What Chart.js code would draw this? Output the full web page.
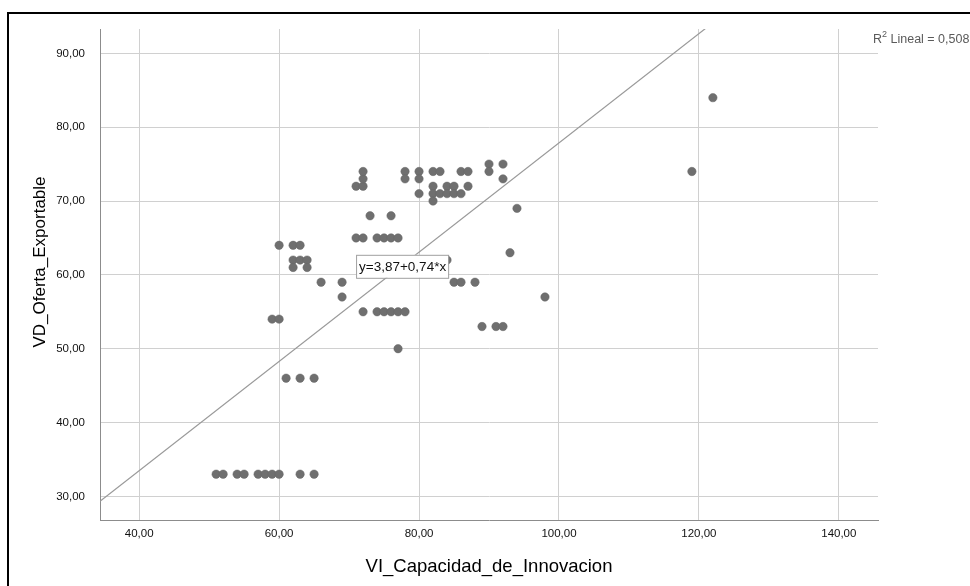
<!DOCTYPE html>
<html>
<head>
<meta charset="utf-8">
<script src="https://cdn.jsdelivr.net/npm/chart.js@4.4.0/dist/chart.umd.min.js"></script>
<style>
html, body { margin: 0; padding: 0; background: #fff; }
#wrap { position: relative; width: 970px; height: 586px; overflow: hidden; }
#frame { position: absolute; left: 7px; top: 12px; width: 2000px; height: 2000px;
         border-left: 2px solid #000; border-top: 2px solid #000; }
canvas { position: absolute; left: 0; top: 0; }
</style>
</head>
<body>
<div id="wrap"><div id="frame"></div><canvas id="chart" width="970" height="586"></canvas></div>
<script>
// VI_Capacidad_de_Innovacion (x) / VD_Oferta_Exportable (y)
var innovacion = [51, 52, 54, 55, 57, 58, 59, 60, 63, 65,
                  61, 63, 65,
                  59, 60,
                  60, 62, 63,
                  62, 63, 64,
                  62, 64,
                  66, 69, 69,
                  71, 72, 74, 75, 76, 77,
                  73, 76,
                  72, 74, 75, 76, 77, 78,
                  77,
                  71, 72, 72, 72,
                  78, 78, 80, 80, 80,
                  82, 83, 86, 87,
                  82, 84, 85, 87,
                  82, 83, 84, 85, 86,
                  82,
                  90, 92, 90, 92,
                  94, 93, 84,
                  85, 86, 88,
                  89, 91, 92,
                  98,
                  119, 122];
var oferta = [33, 33, 33, 33, 33, 33, 33, 33, 33, 33,
              46, 46, 46,
              54, 54,
              64, 64, 64,
              62, 62, 62,
              61, 61,
              59, 59, 57,
              65, 65, 65, 65, 65, 65,
              68, 68,
              55, 55, 55, 55, 55, 55,
              50,
              72, 72, 73, 74,
              74, 73, 74, 73, 71,
              74, 74, 74, 74,
              72, 72, 72, 72,
              71, 71, 71, 71, 71,
              70,
              75, 75, 74, 73,
              69, 63, 62,
              59, 59, 59,
              53, 53, 53,
              57,
              74, 84];

var xTicks = [40, 60, 80, 100, 120, 140];
var yTicks = [30, 40, 50, 60, 70, 80, 90];

// recta de ajuste lineal
var intercepto = 3.87;
var pendiente = 0.74;
var r2 = "0,508";

var xMin = 34.4, xMax = 145.6;
var yMin = 26.7, yMax = 93.3;

var puntos = innovacion.map(function (v, i) { return { x: v, y: oferta[i] }; });
var recta = [
    { x: xMin, y: intercepto + pendiente * xMin },
    { x: xMax, y: intercepto + pendiente * xMax }
];

function coma(v) { return Number(v).toFixed(2).replace('.', ','); }

Chart.defaults.font.family = "'Liberation Sans', Arial, sans-serif";
Chart.defaults.color = '#111';

var etiquetas = {
    id: 'etiquetas',
    afterDatasetsDraw: function (chart) {
        var ctx = chart.ctx;
        var xs = chart.scales.x, ys = chart.scales.y;
        // caja con la ecuacion
        var bx = xs.getPixelForValue(71), by = ys.getPixelForValue(59.6);
        var txt = 'y=' + coma(intercepto) + '+' + coma(pendiente) + '*x';
        ctx.save();
        ctx.font = "13.5px 'Liberation Sans', Arial, sans-serif";
        var w = ctx.measureText(txt).width + 5;
        var h = 23;
        ctx.fillStyle = '#fff';
        ctx.fillRect(bx, by - h, w, h);
        ctx.strokeStyle = '#a0a0a0';
        ctx.lineWidth = 1;
        ctx.strokeRect(bx + 0.5, by - h + 0.5, w, h);
        ctx.fillStyle = '#111';
        ctx.textBaseline = 'middle';
        ctx.fillText(txt, bx + 3, by - h / 2 + 1);

        // R2 arriba a la derecha
        var rx = chart.chartArea.right - 5, ry = 40;
        ctx.fillStyle = '#5a5a5a';
        ctx.font = "12.5px 'Liberation Sans', Arial, sans-serif";
        ctx.fillText('R', rx, ry);
        var x2 = rx + ctx.measureText('R').width;
        ctx.font = "9px 'Liberation Sans', Arial, sans-serif";
        ctx.fillText('2', x2, ry - 5);
        x2 += ctx.measureText('2').width;
        ctx.font = "12.5px 'Liberation Sans', Arial, sans-serif";
        ctx.fillText(' Lineal = ' + r2, x2, ry);

        // titulo del eje Y
        ctx.translate(40, 262);
        ctx.rotate(-Math.PI / 2);
        ctx.fillStyle = '#000';
        ctx.textAlign = 'center';
        ctx.font = "17px 'Liberation Sans', Arial, sans-serif";
        ctx.fillText('VD_Oferta_Exportable', 0, 0);
        ctx.restore();
    }
};

new Chart(document.getElementById('chart'), {
    type: 'scatter',
    data: {
        datasets: [
            {
                data: puntos,
                backgroundColor: '#6f6f6f',
                borderColor: '#666',
                borderWidth: 0.5,
                pointRadius: 4.2,
                order: 2
            },
            {
                type: 'line',
                data: recta,
                borderColor: '#9a9a9a',
                borderWidth: 1.2,
                pointRadius: 0,
                fill: false,
                clip: 0,
                order: 1
            }
        ]
    },
    options: {
        responsive: false,
        animation: false,
        events: [],
        layout: { padding: { top: 29, right: 92, left: 0, bottom: 0 } },
        plugins: {
            legend: { display: false },
            tooltip: { enabled: false }
        },
        scales: {
            x: {
                type: 'linear',
                min: xMin,
                max: xMax,
                afterBuildTicks: function (s) { s.ticks = xTicks.map(function (v) { return { value: v }; }); },
                afterFit: function (s) { s.height = 65.3; },
                grid: { color: '#d0d0d0', lineWidth: 1, drawTicks: false },
                border: { color: '#8c8c8c', width: 1 },
                ticks: {
                    padding: 6,
                    maxRotation: 0,
                    font: { size: 11.5 },
                    callback: function (v) { return coma(v); }
                },
                title: {
                    display: true,
                    text: 'VI_Capacidad_de_Innovacion',
                    color: '#000',
                    font: { size: 18.5 },
                    padding: { top: 0, bottom: 8 }
                }
            },
            y: {
                type: 'linear',
                min: yMin,
                max: yMax,
                afterBuildTicks: function (s) { s.ticks = yTicks.map(function (v) { return { value: v }; }); },
                afterFit: function (s) { s.width = 100; },
                grid: { color: '#d0d0d0', lineWidth: 1, drawTicks: false },
                border: { color: '#8c8c8c', width: 1 },
                ticks: {
                    padding: 15,
                    font: { size: 11.5 },
                    callback: function (v) { return coma(v); }
                }
            }
        }
    },
    plugins: [etiquetas]
});
</script>
</body>
</html>
